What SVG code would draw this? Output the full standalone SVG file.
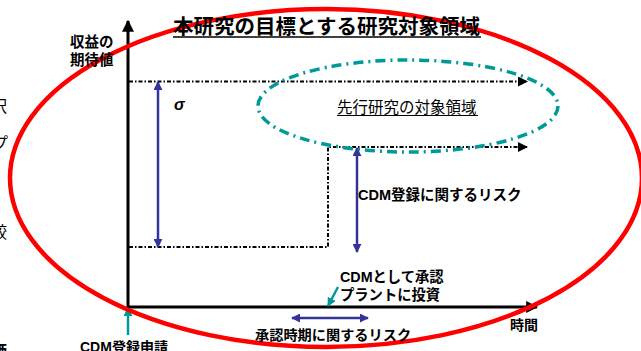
<svg xmlns="http://www.w3.org/2000/svg" width="641" height="351" viewBox="0 0 641 351">
<style>
text{font-family:"Liberation Sans","Noto Sans CJK JP",sans-serif;fill:#000}
.b{font-weight:bold}
.dd{fill:none;stroke:#000;stroke-width:2;stroke-dasharray:4 2 1.5 2}
.blue{stroke:#333399;stroke-width:2.5;fill:none}
.teal{stroke:#009999;stroke-width:2.5;fill:none}
.ax{stroke:#000;stroke-width:3;fill:none}
</style>
<defs>
<marker id="ak" viewBox="0 0 10 10" refX="9" refY="5" markerWidth="4" markerHeight="4" orient="auto-start-reverse"><path d="M0,0L10,5L0,10z" fill="#000"/></marker>
<marker id="akd" viewBox="0 0 10 10" refX="9" refY="5" markerWidth="5" markerHeight="5" orient="auto-start-reverse"><path d="M0,0L10,5L0,10z" fill="#000"/></marker>
<marker id="ab" viewBox="0 0 10 10" refX="9" refY="5" markerWidth="3.6" markerHeight="3.6" orient="auto-start-reverse"><path d="M0,0L10,5L0,10z" fill="#333399"/></marker>
<marker id="at" viewBox="0 0 10 10" refX="9" refY="5" markerWidth="3.6" markerHeight="3.6" orient="auto-start-reverse"><path d="M0,0L10,5L0,10z" fill="#009999"/></marker>
</defs>

<g id="fragments">
<text x="-9" y="112" font-size="16">択</text>
<text x="-8" y="149" font-size="16">プ</text>
<text x="-9" y="238" font-size="16">較</text>
<text x="-9" y="356" font-size="16" class="b">価</text>
</g>

<g id="connectors">
<line class="ax" x1="128" y1="309" x2="128" y2="21" marker-end="url(#ak)"/>
<line class="ax" x1="127" y1="307" x2="537" y2="307" marker-end="url(#ak)"/>
<line class="dd" x1="129" y1="81.5" x2="527" y2="81.5" marker-end="url(#akd)"/>
<polyline class="dd" points="129,247 328,247 328,147 527,147" marker-end="url(#akd)"/>
<line class="blue" x1="158" y1="82" x2="158" y2="247" marker-start="url(#ab)" marker-end="url(#ab)"/>
<line class="blue" x1="357" y1="148" x2="357" y2="252" marker-start="url(#ab)" marker-end="url(#ab)"/>
<line class="blue" x1="292" y1="318" x2="368" y2="318" marker-start="url(#ab)" marker-end="url(#ab)"/>
<line class="teal" x1="128" y1="335" x2="128" y2="308" marker-end="url(#at)"/>
<line class="teal" x1="338" y1="287" x2="328" y2="306" marker-end="url(#at)"/>
</g>

<g id="target-region">
<ellipse cx="326" cy="178" rx="316" ry="169" fill="none" stroke="#ff0000" stroke-width="4.5"/>
<text x="173" y="34" font-size="20.5" class="b">本研究の目標とする研究対象領域</text>
<line x1="173" y1="37" x2="481" y2="37" stroke="#000" stroke-width="1.5"/>
</g>

<g id="prior-region">
<ellipse cx="408" cy="106" rx="150" ry="46" fill="none" stroke="#009999" stroke-width="3.5" stroke-dasharray="10 5 2 5"/>
<text x="337" y="113" font-size="15.5">先行研究の対象領域</text>
<line x1="337" y1="115.5" x2="478" y2="115.5" stroke="#000" stroke-width="1"/>
</g>

<g id="y-label">
<text x="70" y="47" font-size="14.5" class="b">収益の</text>
<text x="70" y="65" font-size="14.5" class="b">期待値</text>
</g>
<g id="sigma"><text x="174" y="110" font-size="16" class="b" font-style="italic">σ</text></g>
<g id="cdm-risk"><text x="358" y="200" font-size="14.5" class="b">CDM登録に関するリスク</text></g>
<g id="approve"><text x="340" y="282" font-size="14.3" class="b">CDMとして承認</text><text x="340" y="300" font-size="14.3" class="b">プラントに投資</text></g>
<g id="time-label"><text x="510" y="330" font-size="14" class="b">時間</text></g>
<g id="approve-risk"><text x="255" y="340" font-size="14.2" class="b">承認時期に関するリスク</text></g>
<g id="apply"><text x="80" y="352" font-size="14" class="b">CDM登録申請</text></g>
</svg>
